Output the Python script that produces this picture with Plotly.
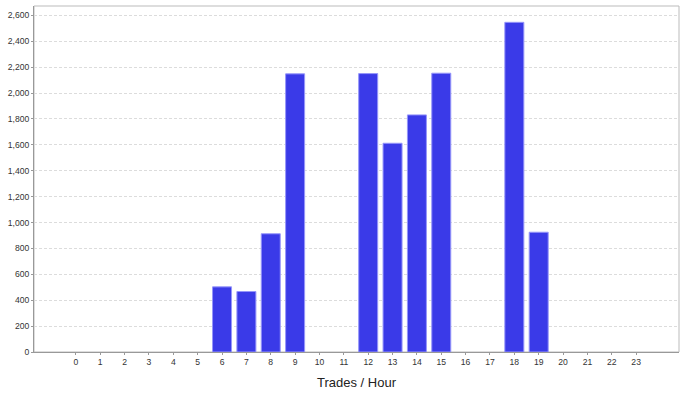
import plotly.graph_objects as go

hours = list(range(24))
trades = [0, 0, 0, 0, 0, 0, 503, 467, 913, 2148, 0, 0, 2150, 1612, 1831, 2153, 0, 0, 2546, 925, 0, 0, 0, 0]
y_ticks = list(range(0, 2601, 200))
x_title = "Trades / Hour"

fig = go.Figure(go.Bar(
    x=hours, y=trades, width=0.78,
    marker=dict(color="rgb(58,58,232)",
                line=dict(color="rgb(150,150,250)", width=[1 if v > 0 else 0 for v in trades])),
))

fig.update_layout(
    width=686, height=396,
    margin=dict(l=34, r=7, t=6, b=44),
    paper_bgcolor="white", plot_bgcolor="white",
    showlegend=False,
    font=dict(family="Liberation Sans, Arial, sans-serif", size=8.6, color="#333"),
    shapes=[dict(type="rect", xref="paper", yref="paper", x0=0, x1=1, y0=0, y1=1,
                 line=dict(color="#bbbbbb", width=1), layer="below")],
    annotations=[dict(text=x_title, xref="paper", yref="paper", x=0.5, y=-0.087,
                      xanchor="center", yanchor="middle", showarrow=False,
                      font=dict(size=13, color="#222"))],
)
fig.update_xaxes(
    range=[-1.72, 24.76], tickmode="array", tickvals=hours, ticktext=[str(h) for h in hours],
    showgrid=False, zeroline=False, showline=True, linecolor="#999999", linewidth=1,
    ticks="outside", ticklen=2, tickcolor="#999999", automargin=False,
)
fig.update_yaxes(
    range=[0, 2672], tickmode="array", tickvals=y_ticks, tickformat=",d",
    showgrid=True, gridcolor="#dcdcdc", griddash="3px,2px", gridwidth=1,
    zeroline=False, showline=True, linecolor="#999999", linewidth=1,
    ticks="outside", ticklen=2, tickcolor="#999999", automargin=False,
)

fig.write_html("out.html", config={"displayModeBar": False},
               post_script="document.body.style.margin='0';document.body.style.overflow='hidden';")
